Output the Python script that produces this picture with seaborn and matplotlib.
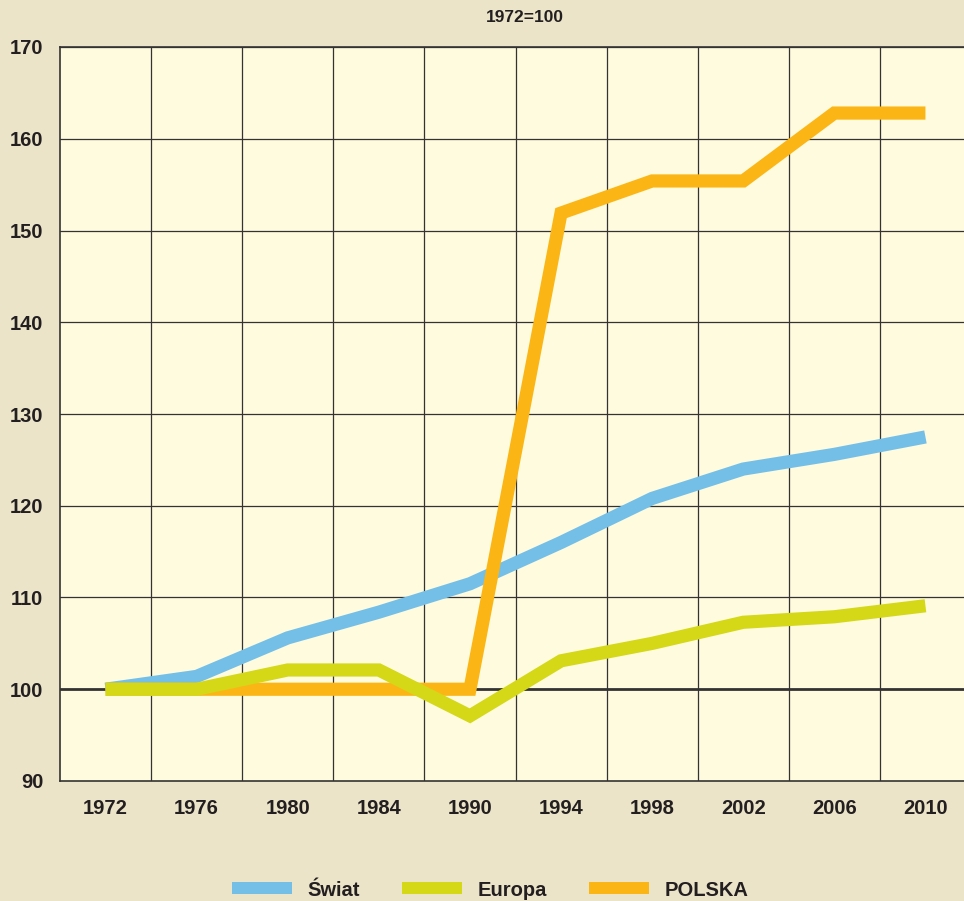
import matplotlib
matplotlib.use("Agg")
import matplotlib.pyplot as plt
import seaborn as sns
import pandas as pd
from matplotlib.patches import Patch

# ── Dane ────────────────────────────────────────────────────────────────────
years = ["1972", "1976", "1980", "1984", "1990", "1994", "1998", "2002", "2006", "2010"]
swiat = [100, 101.4, 105.6, 108.4, 111.5, 116.0, 120.8, 124.0, 125.6, 127.5]
europa = [100, 100, 102.1, 102.1, 97.1, 103.1, 105.0, 107.3, 107.9, 109.1]
polska = [100, 100, 100, 100, 100, 151.9, 155.4, 155.4, 162.8, 162.8]

series_names = ["Świat", "Europa", "POLSKA"]
PALETTE = {"Świat": "#74BFE8", "Europa": "#D5D817", "POLSKA": "#FBB616"}

BG_OUT = "#EBE4C8"
BG_IN = "#FFFBDF"

df = pd.DataFrame({
    "rok": years * 3,
    "wartosc": swiat + europa + polska,
    "seria": ["Świat"] * len(years) + ["Europa"] * len(years) + ["POLSKA"] * len(years),
})

# ── Styl ────────────────────────────────────────────────────────────────────
sns.set_theme(style="white")
plt.rcParams["font.family"] = ["Liberation Sans", "DejaVu Sans"]

fig = plt.figure(figsize=(9.64, 9.01), dpi=100, facecolor=BG_OUT)
ax = fig.add_axes([60 / 964, 1 - 781 / 901, 911 / 964, 734 / 901])
ax.set_facecolor(BG_IN)

sns.lineplot(
    data=df, x="rok", y="wartosc", hue="seria",
    hue_order=["Świat", "POLSKA", "Europa"], palette=PALETTE,
    linewidth=9.5, legend=False, ax=ax, sort=False,
)
for ln in ax.lines:
    ln.set_solid_capstyle("butt")
    ln.set_solid_joinstyle("miter")

ax.set_xlim(-0.5, 9.5)
ax.set_ylim(90, 170)
ax.set_yticks(range(90, 171, 10))
ax.set_xticks(range(len(years)))
ax.set_xticklabels(years)

# siatka: poziome co 10, pionowe między kategoriami, linia 100 grubsza
ax.grid(False)
for y in range(100, 171, 10):
    ax.axhline(y, color="#333333", linewidth=2.0 if y == 100 else 0.9, zorder=0.5 if y != 100 else 1.5)
for x in [i + 0.5 for i in range(len(years))]:
    ax.axvline(x, color="#333333", linewidth=0.9, zorder=0.5)

for s in ["left", "bottom", "top"]:
    ax.spines[s].set_color("#333333")
    ax.spines[s].set_linewidth(1.2)
ax.spines["right"].set_visible(False)

ax.tick_params(axis="both", which="both", length=0, labelsize=14.5, colors="#231F20")
ax.tick_params(axis="x", pad=13)
ax.tick_params(axis="y", pad=12)
for lab in ax.get_xticklabels() + ax.get_yticklabels():
    lab.set_fontweight("bold")
ax.set_xlabel("")
ax.set_ylabel("")

fig.text(525 / 964, 1 - 18 / 901, "1972=100", ha="center", va="center",
         fontsize=12.5, fontweight="bold", color="#231F20")

handles = [Patch(facecolor=PALETTE[n], edgecolor="none") for n in series_names]
fig.legend(
    handles, series_names, loc="center", bbox_to_anchor=(490 / 964, 1 - 890 / 901),
    ncol=3, frameon=False, handlelength=3.0, handleheight=0.55,
    columnspacing=2.1, handletextpad=0.75,
    prop={"weight": "bold", "size": 14.5},
)
for t in fig.legends[0].get_texts():
    t.set_color("#231F20")

fig.savefig("out.png", dpi=100, facecolor=BG_OUT)
